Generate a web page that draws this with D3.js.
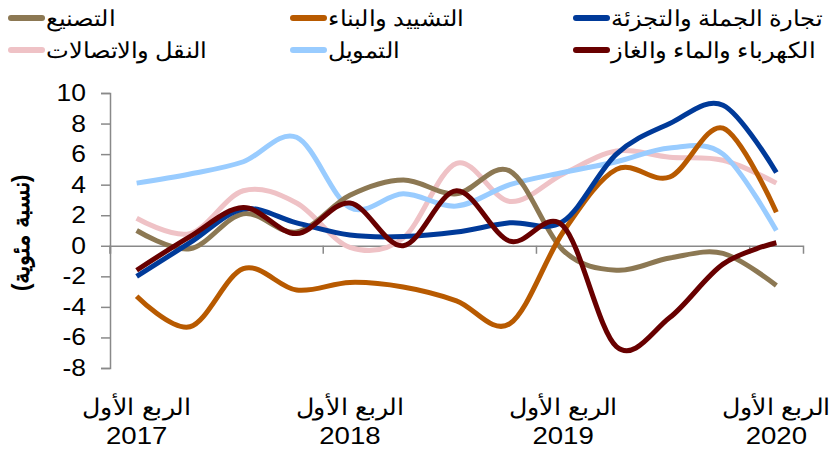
<!DOCTYPE html>
<html>
<head>
<meta charset="utf-8">
<title></title>
<style>
  body { margin: 0; background: #fff; font-family: "Liberation Sans", Arial, sans-serif; }
  svg { display: block; }
  .axis path, .axis line { stroke: #898989; stroke-width: 1.5; }
</style>
<script src="https://d3js.org/d3.v7.min.js"></script>
</head>
<body>
<script>
// quarters Q1 2017 .. Q1 2020
var quarters = ["2017Q1","2017Q2","2017Q3","2017Q4","2018Q1","2018Q2","2018Q3","2018Q4",
                "2019Q1","2019Q2","2019Q3","2019Q4","2020Q1"]
var yTicks = [-8, -6, -4, -2, 0, 2, 4, 6, 8, 10]
var xTickYears = ["2017", "2018", "2019", "2020"]
var xTickQuarter = "الربع الأول"
var yTitle = "(نسبة مئوية)"

var seriesNames = ["النقل والاتصالات", "التمويل", "التصنيع", "التشييد والبناء",
                   "تجارة الجملة والتجزئة", "الكهرباء والماء والغاز"]
var transport  = [1.8, 0.8, 3.6, 2.8, -0.1, 0.5, 5.4, 2.9, 4.7, 6.2, 5.8, 5.6, 4.1]
var finance    = [4.1, 4.7, 5.5, 7.1, 2.5, 3.4, 2.6, 4.0, 4.8, 5.5, 6.4, 6.0, 1.0]
var manufact   = [1.0, -0.2, 2.1, 0.9, 3.3, 4.3, 3.4, 4.9, -0.3, -1.6, -0.8, -0.5, -2.6]
var construct  = [-3.3, -5.3, -1.5, -2.9, -2.4, -2.7, -3.6, -5.1, 0.9, 5.0, 4.5, 7.7, 2.2]
var trade      = [-2.0, 0.2, 2.4, 1.5, 0.7, 0.6, 0.9, 1.5, 1.6, 6.0, 8.0, 9.2, 4.8]
var utilities  = [-1.6, 0.6, 2.5, 0.8, 2.8, 0.0, 3.6, 0.3, 1.3, -6.6, -4.7, -1.2, 0.2]
var colors = ["#efc2c6", "#99ccff", "#8c7853", "#b85a00", "#003a99", "#680000"]

var allSeries = [transport, finance, manufact, construct, trade, utilities]

var W = 837, H = 450
var svg = d3.select("body").append("svg").attr("width", W).attr("height", H)

var x = d3.scaleBand().domain(quarters).range([110, 803])
var y = d3.scaleLinear().domain([-8, 10]).range([368, 93])

// text stretched a bit wider, like the original
function addText(g, tx, ty, str, size, anchor, sx){
  return g.append("text")
    .attr("transform", "translate(" + tx + "," + ty + ") scale(" + (sx || 1.12) + ",1)")
    .attr("text-anchor", anchor).attr("font-size", size + "px").attr("fill", "#000")
    .text(str)
}

// y axis
svg.append("g").attr("class", "axis")
  .attr("transform", "translate(110,0)")
  .call(d3.axisLeft(y).tickValues(yTicks).tickSize(9).tickFormat(""))
var ylab = svg.append("g")
yTicks.forEach(function(t){
  addText(ylab, 86, y(t) + 8, String(t), 23, "end", 1.15)
})

// x axis on zero line
var tickCats = quarters.filter(function(d, i){ return i % 4 == 0 })
var xAxis = svg.append("g").attr("class", "axis")
  .attr("transform", "translate(0," + y(0) + ")")
  .call(d3.axisBottom(x).tickValues(tickCats).tickSizeOuter(0).tickSize(8).tickFormat(""))
xAxis.selectAll(".tick").attr("transform", function(d){ return "translate(" + x(d) + ",0)" })

// x labels
var lab = svg.append("g")
tickCats.forEach(function(d, i){
  var cx = x(d) + x.bandwidth() / 2
  addText(lab, cx, 415, xTickQuarter, 23, "middle", 1.1)
  addText(lab, cx, 444, xTickYears[i], 24, "middle", 1.15)
})

// y title
svg.append("text").attr("transform", "translate(29,233) rotate(-90)")
  .attr("text-anchor", "middle").attr("font-size", "23px").attr("font-weight", "bold")
  .text(yTitle)

// lines
var line = d3.line()
  .x(function(d, i){ return x(quarters[i]) + x.bandwidth() / 2 })
  .y(function(d){ return y(d) })
  .curve(d3.curveCardinal.tension(0))

svg.append("g").selectAll("path")
  .data(allSeries)
  .enter()
  .append("path")
  .attr("d", line)
  .attr("fill", "none")
  .attr("stroke", function(d, i){ return colors[i] })
  .attr("stroke-width", 5)
  .attr("stroke-linejoin", "round")

// legend
var legendPos = [[8, 50], [290, 50], [8, 18], [290, 18], [573, 18], [573, 50]]
var leg = svg.append("g")
seriesNames.forEach(function(name, i){
  var p = legendPos[i]
  leg.append("line").attr("x1", p[0] + 3).attr("x2", p[0] + 34)
    .attr("y1", p[1]).attr("y2", p[1])
    .attr("stroke", colors[i]).attr("stroke-width", 6).attr("stroke-linecap", "round")
  addText(leg, p[0] + 38, p[1] + 8, name, 22, "start", 1.1)
})
</script>
</body>
</html>
